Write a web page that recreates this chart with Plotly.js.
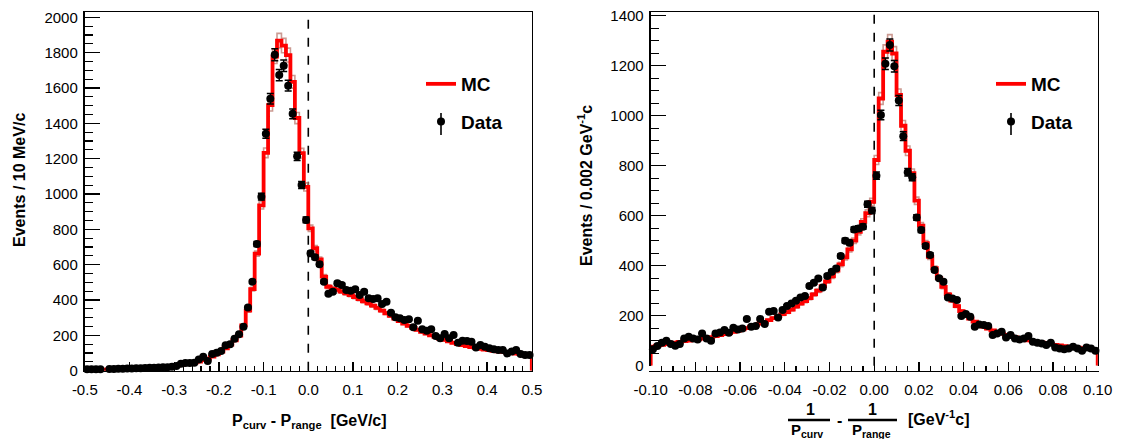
<!DOCTYPE html>
<html><head><meta charset="utf-8">
<script src="https://cdn.plot.ly/plotly-3.0.1.min.js"></script>
<style>html,body{margin:0;padding:0;background:#fff}#chart{width:1121px;height:439px}</style>
</head><body><div id="chart"></div>
<script>
// ---------- DATA ----------
// Left panel: P_curv - P_range, 100 bins of 10 MeV/c from -0.5 to 0.5
const leftBinLow = -0.5, leftBinWidth = 0.01;
const leftTickVals = [-0.5,-0.4,-0.3,-0.2,-0.1,0,0.1,0.2,0.3,0.4,0.5];
const leftTickText = ["-0.5","-0.4","-0.3","-0.2","-0.1","0.0","0.1","0.2","0.3","0.4","0.5"];
const leftData = [
  8,8,8,8,null,10,10,11,11,12,
  13,14,14,15,16,17,18,19,20,22,
  27,40,43,43,45,64,79,55,95,102,
  111,144,149,181,206,249,357,504,717,985,
  1341,1539,1788,1673,1726,1613,1454,1213,1051,853,
  664,642,602,504,435,447,495,485,457,453,
  461,428,447,410,406,410,377,390,328,302,
  297,287,291,246,283,234,226,234,196,183,
  208,183,202,158,170,168,164,132,145,136,
  127,121,117,117,98,108,117,95,89,89
];
const leftMC = [
  5,5,6,6,6,7,8,9,10,11,
  12,13,14,15,16,17,19,21,23,26,
  29,33,37,41,46,52,60,68,80,92,
  108,126,148,172,198,256,340,462,662,936,
  1233,1503,1778,1868,1840,1786,1635,1430,1231,1040,
  806,693,630,532,475,465,458,448,438,428,
  417,405,393,381,368,355,340,325,310,295,
  280,267,254,242,231,220,210,200,191,182,
  174,166,158,151,145,139,134,129,124,120,
  116,112,109,106,103,100,97,94,91,88
];
// Right panel: 1/P_curv - 1/P_range, 100 bins of 0.002 GeV^-1 c from -0.1 to 0.1
const rightBinLow = -0.1, rightBinWidth = 0.002;
const rightTickVals = [-0.1,-0.08,-0.06,-0.04,-0.02,0,0.02,0.04,0.06,0.08,0.1];
const rightTickText = ["-0.10","-0.08","-0.06","-0.04","-0.02","0.00","0.02","0.04","0.06","0.08","0.10"];
const rightData = [
  66,79,92,100,87,80,87,109,116,109,
  105,129,109,100,129,133,143,132,152,145,
  149,187,156,159,187,167,216,219,193,223,
  239,249,260,273,279,319,332,349,313,359,
  376,389,439,500,492,545,549,556,646,621,
  760,1003,1208,1283,1198,1061,918,774,754,593,
  543,479,443,383,350,336,273,269,263,199,
  207,196,156,165,163,159,123,129,136,113,
  123,109,105,109,119,96,92,89,83,92,
  73,69,66,69,76,69,60,73,69,60
];
const rightMC = [
  76,80,83,86,89,92,95,98,100,102,
  105,108,111,114,118,122,126,130,135,140,
  145,150,156,162,168,175,182,190,198,206,
  214,224,236,248,258,270,285,300,318,337,
  357,380,405,433,465,500,535,575,610,655,
  823,1069,1256,1296,1249,1083,960,860,770,660,
  560,490,435,390,350,315,285,260,238,218,
  202,188,176,165,156,148,141,134,128,123,
  118,113,109,105,101,98,95,92,89,86,
  83,81,78,76,74,72,70,68,66,64
];
const seriesNames = ["MC", "Data"];

// ---------- LAYOUT HELPERS ----------
const W = 1121, H = 439;
const px = x => x / W, py = y => 1 - y / H;
const FONT = "Liberation Sans, Arial, Helvetica, sans-serif";
const LEFT = {x0: 84.8, x1: 531.8, yb: 370.7, yt: 12, ymax: 2030};
const RIGHT = {x0: 650.7, x1: 1097.7, yb: 365.7, yt: 12, ymax: 1415};
const BAND = 0.022; // relative size of MC uncertainty boxes

function centers(lo, w, n){ const c=[]; for(let i=0;i<n;i++) c.push(lo+(i+0.5)*w); return c; }
function stepXY(lo, w, vals){
  const xs=[lo], ys=[0];
  vals.forEach((v,i)=>{ xs.push(lo+i*w); ys.push(v); });
  xs.push(lo+vals.length*w); ys.push(vals[vals.length-1]);
  xs.push(lo+vals.length*w); ys.push(0);
  return {xs, ys};
}

const traces = [];
function addPanel(lo, w, data, mc, xa, yMain, yLow, yVis, legendId){
  const s = stepXY(lo, w, mc);
  const bandStyle = {color:'rgba(185,120,110,0.75)', width:1.6, shape:'hv'};
  traces.push({type:'scatter', mode:'lines', x:s.xs, y:s.ys, xaxis:xa, yaxis:yMain,
    line:bandStyle, showlegend:false, hoverinfo:'skip'});
  traces.push({type:'scatter', mode:'lines', x:s.xs, y:s.ys, xaxis:xa, yaxis:yLow,
    line:bandStyle, showlegend:false, hoverinfo:'skip'});
  traces.push({type:'scatter', mode:'lines', name:seriesNames[0], x:s.xs, y:s.ys, xaxis:xa, yaxis:yVis,
    line:{color:'#ff0000', width:3.8, shape:'hv'}, legend:legendId, legendgroup:legendId+'a'});
  traces.push({type:'scatter', mode:'markers', name:seriesNames[1], x:centers(lo,w,data.length), y:data,
    xaxis:xa, yaxis:yVis, cliponaxis:false,
    marker:{color:'#000', size:8, symbol:'circle'},
    error_y:{type:'percent', value:1.9, color:'#000', thickness:1.5, width:3.5},
    legend:legendId, legendgroup:legendId+'b'});
}
addPanel(leftBinLow, leftBinWidth, leftData, leftMC, 'x', 'y', 'y3', 'y5', 'legend');
addPanel(rightBinLow, rightBinWidth, rightData, rightMC, 'x2', 'y2', 'y4', 'y6', 'legend2');

function xAxis(P, lo, tv, tt, minorDt){
  return {domain:[px(P.x0), px(P.x1)], range:[lo, -lo], showline:true, mirror:true, linecolor:'#000', linewidth:1.5,
    tickmode:'array', tickvals:tv, ticktext:tt, ticks:'inside', ticklen:9, tickwidth:1.3, tickcolor:'#000',
    minor:{ticks:'inside', dtick:minorDt, tick0:lo, ticklen:5, tickwidth:1.1, tickcolor:'#000'},
    showgrid:false, zeroline:false, tickfont:{family:FONT, size:15, color:'#000'}, ticklabelstandoff:5, fixedrange:true};
}
function yHidden(P, ax, rng, line){
  const o = {domain:[py(P.yb), py(P.yt)], anchor:ax, range:[0, rng], showgrid:false, zeroline:false,
    showticklabels:false, ticks:'', fixedrange:true};
  if(line){ o.showline=true; o.mirror=true; o.linecolor='#000'; o.linewidth=1.5; }
  return o;
}
function yVisible(P, ax, over){
  return {overlaying:over, anchor:ax, side:'left', range:[0, P.ymax], dtick:200, tick0:0, tickmode:'linear',
    ticks:'inside', ticklen:15, tickwidth:1.3, tickcolor:'#000',
    minor:{ticks:'inside', dtick:50, ticklen:8, tickwidth:1.1, tickcolor:'#000'},
    showgrid:false, zeroline:false, showline:false, tickfont:{family:FONT, size:15, color:'#000'},
    ticklabelstandoff:6, fixedrange:true};
}

const bold = {family:FONT, size:16, color:'#000', weight:'bold'};
const ann = (x,y,text,extra) => Object.assign({xref:'paper', yref:'paper', x:px(x), y:py(y), text:text,
  showarrow:false, font:bold, xanchor:'center', yanchor:'middle'}, extra||{});
const legendFont = {family:FONT, size:19, color:'#000', weight:'bold'};
const legendBox = (x) => ({x:px(x), y:py(65), xanchor:'left', yanchor:'top', bgcolor:'rgba(0,0,0,0)', borderwidth:0,
    font:legendFont, tracegroupgap:10, itemwidth:30});
// vertical error-bar stroke on the "Data" legend symbol
const legendBar = (x) => ({type:'line', xref:'paper', yref:'paper', x0:px(x), x1:px(x), y0:py(113), y1:py(135),
    line:{color:'#000', width:1.6}});

const layout = {
  width:W, height:H, margin:{l:0,r:0,t:0,b:0}, paper_bgcolor:'#fff', plot_bgcolor:'#fff',
  font:{family:FONT, color:'#000'},
  xaxis: xAxis(LEFT, leftBinLow, leftTickVals, leftTickText, 0.02),
  xaxis2: xAxis(RIGHT, rightBinLow, rightTickVals, rightTickText, 0.005),
  yaxis: yHidden(LEFT, 'x', LEFT.ymax/(1+BAND), true),
  yaxis3: Object.assign(yHidden(LEFT, 'x', LEFT.ymax/(1-BAND), false), {overlaying:'y'}),
  yaxis5: yVisible(LEFT, 'x', 'y'),
  yaxis2: yHidden(RIGHT, 'x2', RIGHT.ymax/(1+BAND), true),
  yaxis4: Object.assign(yHidden(RIGHT, 'x2', RIGHT.ymax/(1-BAND), false), {overlaying:'y2'}),
  yaxis6: yVisible(RIGHT, 'x2', 'y2'),
  legend: legendBox(421),
  legend2: legendBox(991),
  shapes:[
    {type:'line', xref:'x', yref:'y domain', x0:0, x1:0, y0:0, y1:1, line:{color:'#000', width:1.6, dash:'dash'}, layer:'below'},
    {type:'line', xref:'x2', yref:'y2 domain', x0:0, x1:0, y0:0, y1:1, line:{color:'#000', width:1.6, dash:'dash'}, layer:'below'},
    {type:'line', xref:'paper', yref:'paper', x0:px(788), x1:px(830), y0:py(420), y1:py(420), line:{color:'#000', width:2.5}},
    {type:'line', xref:'paper', yref:'paper', x0:px(848), x1:px(897), y0:py(420), y1:py(420), line:{color:'#000', width:2.5}},
    legendBar(441), legendBar(1011)
  ],
  annotations:[
    ann(19, 180, 'Events / 10 MeV/c', {textangle:-90}),
    ann(585, 186, 'Events / 0.002 GeV<sup>-1</sup>c', {textangle:-90}),
    ann(309, 421, 'P<sub>curv</sub> - P<sub>range</sub>&nbsp;&nbsp;[GeV/c]'),
    ann(810, 409, '1'),
    ann(807, 430, 'P<sub>curv</sub>', {font:Object.assign({}, bold, {size:15})}),
    ann(839, 420, '-'),
    ann(872, 409, '1'),
    ann(871, 430, 'P<sub>range</sub>', {font:Object.assign({}, bold, {size:15})}),
    ann(906, 418, '[GeV<sup>-1</sup>c]', {xanchor:'left'})
  ]
};
Plotly.newPlot('chart', traces, layout, {displayModeBar:false, staticPlot:true});
</script></body></html>
